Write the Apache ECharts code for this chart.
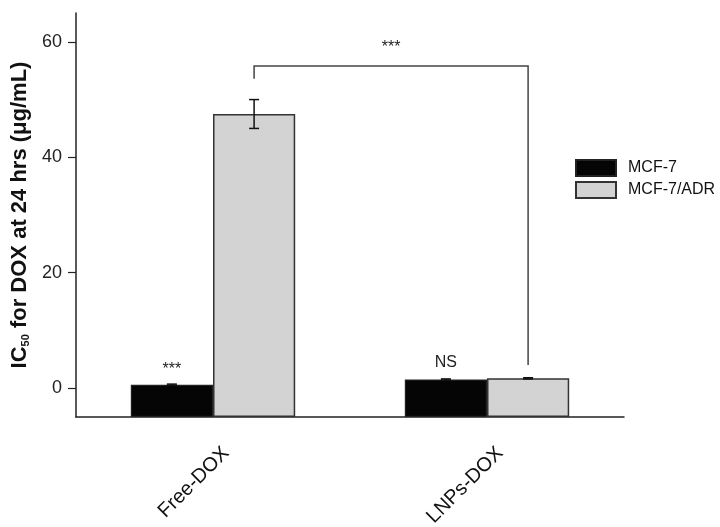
<!DOCTYPE html>
<html><head><meta charset="utf-8">
<script src="https://cdn.jsdelivr.net/npm/echarts@6/dist/echarts.min.js"></script>
<style>html,body{margin:0;padding:0;background:#fff}#c{width:720px;height:527px}</style>
</head><body><div id="c"></div>
<script>
const categories = ['Free-DOX', 'LNPs-DOX'];
const seriesNames = ['MCF-7', 'MCF-7/ADR'];
const mcf7 = [0.6, 1.5];
const mcf7Err = [0.1, 0.1];
const adr = [47.5, 1.7];
const adrErr = [2.5, 0.1];
const yTicks = [0, 20, 40, 60];
// bracket between MCF-7/ADR bars: [leftCat, rightCat, topY, leftBottomY, rightBottomY]
const bracket = [0, 1, 55.8, 53.6, 4.0];
// annotations: [catA, catB, seriesIndex, y, text]
const notes = [
  [0, 0, 0, 3.3, '***'],
  [1, 1, 0, 4.5, 'NS'],
  [0, 1, 1, 59.0, '***']
];

const FONT = 'Liberation Sans, Arial, sans-serif';
const BAR_FRAC = 0.3;
function offs(si){ return si === 0 ? -BAR_FRAC/2 : BAR_FRAC/2; }

const errData = [];
mcf7.forEach((v,i)=>errData.push([i, v, mcf7Err[i], 0]));
adr.forEach((v,i)=>errData.push([i, v, adrErr[i], 1]));

const chart = echarts.init(document.getElementById('c'));
chart.setOption({
  animation: false,
  grid: {left: 76, right: 96, top: 13, bottom: 110, outerBoundsMode: 'none', containLabel: false},
  legend: {
    orient: 'vertical', left: 575, top: 159, padding: 0,
    itemWidth: 40, itemHeight: 16, itemGap: 4,
    textStyle: {fontFamily: FONT, fontSize: 16, color: '#111', padding: [0,0,0,7]},
    data: seriesNames.map(n=>({name:n, icon:'rect'}))
  },
  xAxis: {
    type: 'category', data: categories,
    axisLine: {onZero: false, lineStyle: {color: '#222', width: 1.5}},
    axisTick: {show: false},
    axisLabel: {rotate: 45, margin: 20,
      formatter: v => '{a|' + v + '}',
      rich: {a: {fontFamily: FONT, fontSize: 20, color: '#111', padding: [37, 0, 0, 0]}}}
  },
  yAxis: {
    type: 'value', min: -5, max: 65, startValue: -5,
    name: '{a|IC}{s|50}{a| for DOX at 24 hrs (μg/mL)}',
    nameLocation: 'middle', nameGap: 42, nameRotate: 90,
    nameTextStyle: {
      rich: {
        a: {fontFamily: FONT, fontSize: 22, fontWeight: 'bold', color: '#111'},
        s: {fontFamily: FONT, fontSize: 11, fontWeight: 'bold', color: '#111', verticalAlign: 'bottom', padding: [9,0,0,0]}
      }
    },
    splitLine: {show: false},
    axisLine: {show: true, onZero: false, lineStyle: {color: '#222', width: 1.5}},
    axisTick: {show: true, length: 8, customValues: yTicks, lineStyle: {color: '#222', width: 1.2}},
    axisLabel: {customValues: yTicks, margin: 14, fontFamily: FONT, fontSize: 18, color: '#222'}
  },
  series: [
    {name: seriesNames[0], type: 'bar', data: mcf7, barWidth: '30%', barGap: '0%',
     itemStyle: {color: '#050505', borderColor: '#222', borderWidth: 1.2}},
    {name: seriesNames[1], type: 'bar', data: adr, barWidth: '30%', barGap: '0%',
     itemStyle: {color: '#d3d3d3', borderColor: '#333', borderWidth: 1.5}},
    {type: 'custom', data: errData, z: 5,
     renderItem(params, api){
       const band = api.size([1,0])[0];
       const x = api.value(0), v = api.value(1), e = api.value(2), si = api.value(3);
       const p1 = api.coord([x, v+e]), p2 = api.coord([x, v-e]);
       const cx = p1[0] + offs(si)*band;
       const hw = 5;
       const st = {stroke: '#111', lineWidth: 1.5};
       return {type: 'group', children: [
         {type:'line', shape:{x1:cx,y1:p1[1],x2:cx,y2:p2[1]}, style:st},
         {type:'line', shape:{x1:cx-hw,y1:p1[1],x2:cx+hw,y2:p1[1]}, style:st},
         {type:'line', shape:{x1:cx-hw,y1:p2[1],x2:cx+hw,y2:p2[1]}, style:st}
       ]};
     }},
    {type: 'custom', data: [bracket], z: 5,
     renderItem(params, api){
       const band = api.size([1,0])[0];
       const a = api.coord([api.value(0), api.value(2)]);
       const b = api.coord([api.value(1), api.value(2)]);
       const lb = api.coord([api.value(0), api.value(3)]);
       const rb = api.coord([api.value(1), api.value(4)]);
       const xl = a[0] + offs(1)*band, xr = b[0] + offs(1)*band;
       return {type:'polyline', shape:{points:[[xl,lb[1]],[xl,a[1]],[xr,a[1]],[xr,rb[1]]]},
               style:{stroke:'#444', lineWidth:1.5, fill:null}};
     }},
    {type: 'custom', data: notes.map(n=>[n[0], n[3]]), z: 6,
     renderItem(params, api){
       const n = notes[params.dataIndex];
       const band = api.size([1,0])[0];
       const ca = api.coord([n[0], n[3]]), cb = api.coord([n[1], n[3]]);
       const x = (ca[0] + cb[0]) / 2 + offs(n[2])*band;
       return {type:'text', x: x, y: ca[1],
               style:{text:n[4], fontSize:16, fontFamily:FONT, fill:'#222', align:'center', verticalAlign:'middle'}};
     }}
  ]
});
</script></body></html>
